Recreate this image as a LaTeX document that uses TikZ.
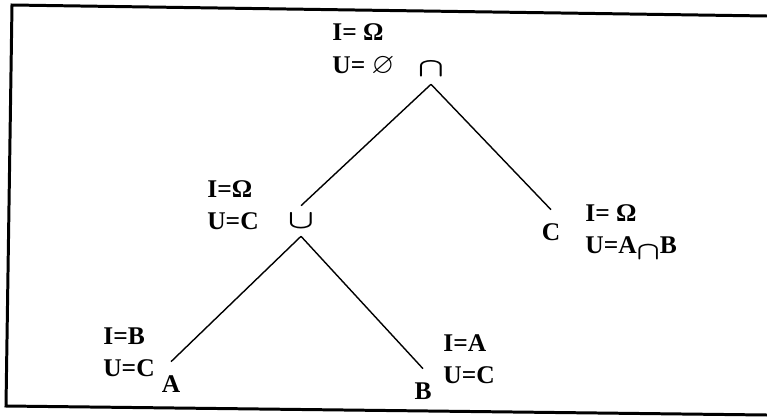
\documentclass[tikz,border=0pt]{standalone}
\usepackage{amsmath,amssymb}
\usepackage{fontspec}
\setmainfont{Liberation Serif}

\newcommand{\bigcapop}{\scalebox{1.35}[1.05]{$\boldsymbol{\cap}$}}
\newcommand{\bigcupop}{\scalebox{1.35}[1.05]{$\boldsymbol{\cup}$}}

\begin{document}
\begin{tikzpicture}[x=0.02cm, y=-0.02cm,
        font=\fontsize{14.5}{18}\selectfont\bfseries,
        op/.style={inner sep=0pt, minimum height=17pt},
        leaf/.style={inner sep=0pt, minimum height=25pt},
        lbl/.style={anchor=west, inner sep=0pt, align=left},
        edge/.style={line width=0.8pt}]

        \useasboundingbox (0,0) rectangle (767,416);

        % frame, open on the right
        \draw[line width=1.7pt] (767,16) -- (12,5) -- (6,406) -- (767,415);

        % operators
        \node[op] (rootop) at (431,69) {\bigcapop};
        \node[op] (unionop) at (301,221) {\bigcupop};

        % leaves
        \node[leaf] (leafA) at (171,384) {A};
        \node[leaf] (leafB) at (423,391) {B};
        \node[leaf] (leafC) at (551,232) {C};

        % I / U labels
        \node[lbl] (lblroot) at (332,50) {I= Ω\\[1pt]U= \scalebox{1.15}{$\boldsymbol{\varnothing}$}};
        \node[lbl] (lblunion) at (207,205) {I=Ω\\U=C};
        \node[lbl] (lblC) at (585,232) {I= Ω\\U=A\raisebox{-0.5ex}{\scalebox{1.2}[1.0]{$\boldsymbol{\cap}$}}B};
        \node[lbl] (lblA) at (103,352) {I=B\\U=C};
        \node[lbl] (lblB) at (443,359) {I=A\\U=C};

        \draw[edge] (rootop.south) -- (unionop.north);
        \draw[edge] (rootop.south) -- (leafC.north);
        \draw[edge] (unionop.south) -- (leafA.north);
        \draw[edge] (unionop.south) -- (leafB.north);

    \end{tikzpicture}
\end{document}
